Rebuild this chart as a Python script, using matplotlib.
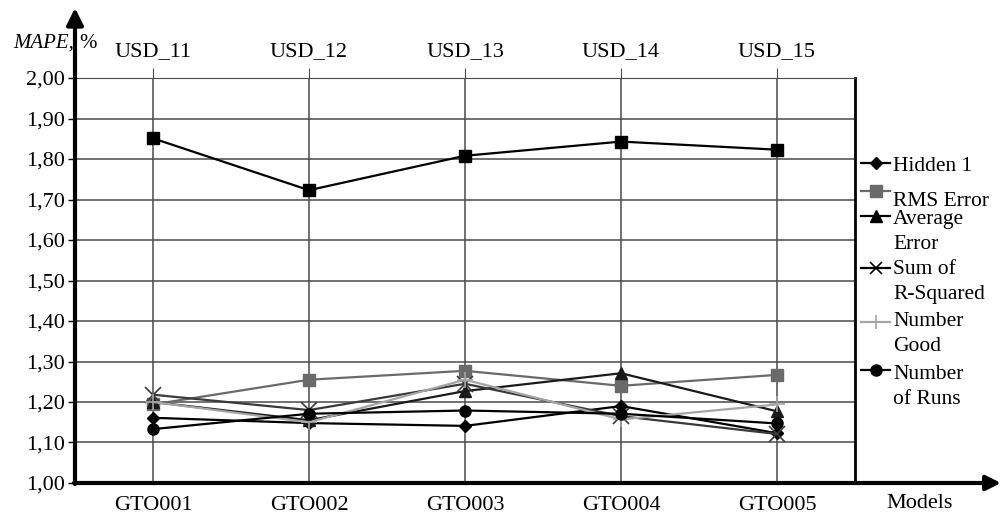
import matplotlib
matplotlib.use('Agg')
import matplotlib.pyplot as plt
from matplotlib.lines import Line2D

plt.rcParams['font.family'] = ['Liberation Serif', 'DejaVu Serif']

models = ['GTO001', 'GTO002', 'GTO003', 'GTO004', 'GTO005']
usd = ['USD_11', 'USD_12', 'USD_13', 'USD_14', 'USD_15']

top_line = [1.851, 1.723, 1.808, 1.843, 1.823]
hidden_1 = [1.161, 1.148, 1.141, 1.190, 1.123]
rms_error = [1.194, 1.255, 1.277, 1.240, 1.267]
average_error = [1.200, 1.155, 1.227, 1.271, 1.177]
sum_r_squared = [1.218, 1.180, 1.245, 1.165, 1.121]
number_good = [1.200, 1.150, 1.255, 1.157, 1.194]
number_runs = [1.133, 1.171, 1.179, 1.171, 1.147]

W, H = 1002, 520
fig = plt.figure(figsize=(W / 100, H / 100), dpi=100)
ax = fig.add_axes([75 / W, 1 - 483 / H, 780 / W, 405 / H])

x = range(len(models))
ax.plot(x, top_line, color='black', lw=1.6, marker='s', ms=9, zorder=5)
ax.plot(x, hidden_1, color='black', lw=1.6, marker='D', ms=6, zorder=5)
ax.plot(x, rms_error, color='#6a6a6a', lw=1.6, marker='s', ms=8, zorder=5)
ax.plot(x, average_error, color='#1a1a1a', lw=1.6, marker='^', ms=8, zorder=5)
ax.plot(x, sum_r_squared, color='#3a3a3a', lw=1.6, marker='x', ms=11, mew=1.2, zorder=5)
ax.plot(x, number_good, color='#a5a5a5', lw=1.6, marker='+', ms=12, mew=1.2, zorder=5)
ax.plot(x, number_runs, color='black', lw=1.6, marker='o', ms=8, zorder=5)

ax.set_xlim(-0.5, 4.5)
ax.set_ylim(1.0, 2.0)
yt = [1.0 + i / 10 for i in range(11)]
ax.set_yticks(yt, [f'{v:.2f}'.replace('.', ',') for v in yt])
ax.set_xticks(list(x), models)
ax.tick_params(axis='y', labelsize=16, length=5, width=1, pad=2)
ax.tick_params(axis='x', labelsize=16, length=0, pad=9)
ax.grid(True, color='#4a4a4a', lw=1.1)

sec = ax.secondary_xaxis('top')
sec.set_xticks(list(x), usd)
sec.tick_params(labelsize=16, length=7, color='#4a4a4a', pad=5)
sec.spines['top'].set_visible(False)

ax.spines['left'].set_visible(False)
ax.spines['bottom'].set_visible(False)
ax.spines['top'].set_color('#4a4a4a')
ax.spines['right'].set_linewidth(2)

# axis arrows
ax.annotate('', xy=(75 / W, 1 - 8 / H), xytext=(75 / W, 1 - 484 / H),
            xycoords='figure fraction',
            arrowprops=dict(arrowstyle='-|>', lw=3, color='black', mutation_scale=25, shrinkA=0, shrinkB=0))
ax.annotate('', xy=(1001 / W, 1 - 483 / H), xytext=(74 / W, 1 - 483 / H),
            xycoords='figure fraction',
            arrowprops=dict(arrowstyle='-|>', lw=3, color='black', mutation_scale=22, shrinkA=0, shrinkB=0))

fig.text(74 / W, 1 - 43 / H, 'MAPE,', style='italic', fontsize=15, ha='right', va='center')
fig.text(79 / W, 1 - 43 / H, '%', fontsize=15, ha='left', va='center')
fig.text(920 / W, 1 - 504 / H, 'Models', fontsize=16, ha='center', va='center')

# legend drawn by hand
legend = [
    ('Hidden 1', 163, 165, dict(color='black', marker='D', ms=6)),
    ('RMS Error', 191, 200, dict(color='#6a6a6a', marker='s', ms=8)),
    ('Average\nError', 216, 218, dict(color='black', marker='^', ms=8)),
    ('Sum of\nR-Squared', 268, 268, dict(color='black', marker='x', ms=9, mew=1.2)),
    ('Number\nGood', 322, 320, dict(color='#a5a5a5', marker='+', ms=10, mew=1.2)),
    ('Number\nof Runs', 370, 373, dict(color='black', marker='o', ms=8)),
]
for label, ym, yt0, style in legend:
    fig.add_artist(Line2D([861 / W, 890 / W], [1 - ym / H] * 2, lw=1.6, color=style['color']))
    fig.add_artist(Line2D([875.5 / W], [1 - ym / H], lw=0, **style))
    fig.text(893 / W, 1 - (yt0 - 8) / H, label, fontsize=15.5, ha='left', va='top', linespacing=1.42)

fig.savefig('out.png', dpi=100)
